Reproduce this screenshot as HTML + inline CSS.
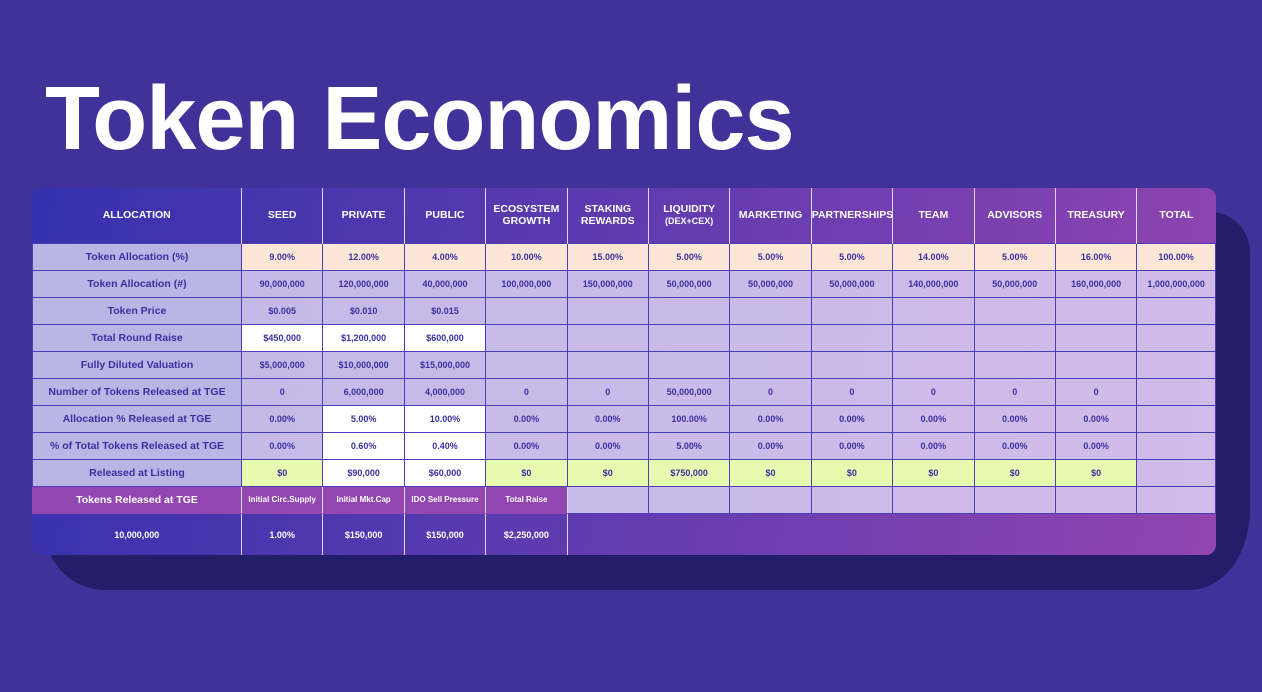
<!DOCTYPE html>
<html><head><meta charset="utf-8"><style>
*{margin:0;padding:0;box-sizing:border-box}
body{width:1262px;height:692px;background:#41329a;position:relative;overflow:hidden;font-family:"Liberation Sans",Arial,sans-serif}
h1{position:absolute;left:45px;top:64px;color:#fff;font-size:90px;font-weight:bold;letter-spacing:-1px;line-height:110px}
.blob{position:absolute;left:45px;top:212px;width:1205px;height:378px;background:#241d6a;border-radius:30px 40px 60px 60px / 30px 40px 80px 60px}
.card{position:absolute;left:32px;top:188px;width:1184px;height:367px;border-radius:10px;overflow:hidden;background:linear-gradient(100deg,#3532ad,#6a3db0 60%,#9145b0)}
table{position:absolute;left:0;top:0;border-collapse:collapse;table-layout:fixed;width:1184px}
td{border:1.5px solid #4a3fb8;text-align:center;font-size:9px;font-weight:bold;color:#3a2fa0;height:27px;padding:0}
td.l{font-size:10.5px}
tr.h td{height:55px;color:#fff;font-size:10.5px;border:none;border-left:1.5px solid #ddd8ff}
tr.h td:first-child{border-left:none}
tr.r td{background:rgba(225,215,245,.82)}
tr.r td.l{background:rgba(200,195,235,.9)}
td.p{background:#fde6d6!important}
td.w{background:#fff!important}
td.g{background:#e6fbb0!important}
tr.t td.pu{background:#9146b0;color:#fff;border-color:#9146b0;border-right:1.5px solid #ddd8ff}
tr.t td{background:rgba(225,215,245,.82)}
tr.b td{height:44px;color:#fff;background:transparent;border:none;border-left:1.5px solid #ddd8ff}
tr.b td:first-child{border-left:none}
tr.b td.n{border-left:none}
</style></head><body>
<h1>Token Economics</h1>
<div class="blob"></div>
<div class="card">
<table>
<colgroup><col style="width:209px"><col span="11" style="width:81.4px"></colgroup>
<tr class="h"><td>ALLOCATION</td><td>SEED</td><td>PRIVATE</td><td>PUBLIC</td><td>ECOSYSTEM<br>GROWTH</td><td>STAKING<br>REWARDS</td><td>LIQUIDITY<br><span style="font-size:9px">(DEX+CEX)</span></td><td>MARKETING</td><td>PARTNERSHIPS</td><td>TEAM</td><td>ADVISORS</td><td>TREASURY</td><td>TOTAL</td></tr>
<tr class="r"><td class="l">Token Allocation (%)</td><td class="p">9.00%</td><td class="p">12.00%</td><td class="p">4.00%</td><td class="p">10.00%</td><td class="p">15.00%</td><td class="p">5.00%</td><td class="p">5.00%</td><td class="p">5.00%</td><td class="p">14.00%</td><td class="p">5.00%</td><td class="p">16.00%</td><td class="p">100.00%</td></tr>
<tr class="r"><td class="l">Token Allocation (#)</td><td>90,000,000</td><td>120,000,000</td><td>40,000,000</td><td>100,000,000</td><td>150,000,000</td><td>50,000,000</td><td>50,000,000</td><td>50,000,000</td><td>140,000,000</td><td>50,000,000</td><td>160,000,000</td><td>1,000,000,000</td></tr>
<tr class="r"><td class="l">Token Price</td><td>$0.005</td><td>$0.010</td><td>$0.015</td><td></td><td></td><td></td><td></td><td></td><td></td><td></td><td></td><td></td></tr>
<tr class="r"><td class="l">Total Round Raise</td><td class="w">$450,000</td><td class="w">$1,200,000</td><td class="w">$600,000</td><td></td><td></td><td></td><td></td><td></td><td></td><td></td><td></td><td></td></tr>
<tr class="r"><td class="l">Fully Diluted Valuation</td><td>$5,000,000</td><td>$10,000,000</td><td>$15,000,000</td><td></td><td></td><td></td><td></td><td></td><td></td><td></td><td></td><td></td></tr>
<tr class="r"><td class="l">Number of Tokens Released at TGE</td><td>0</td><td>6,000,000</td><td>4,000,000</td><td>0</td><td>0</td><td>50,000,000</td><td>0</td><td>0</td><td>0</td><td>0</td><td>0</td><td></td></tr>
<tr class="r"><td class="l">Allocation % Released at TGE</td><td>0.00%</td><td class="w">5.00%</td><td class="w">10.00%</td><td>0.00%</td><td>0.00%</td><td>100.00%</td><td>0.00%</td><td>0.00%</td><td>0.00%</td><td>0.00%</td><td>0.00%</td><td></td></tr>
<tr class="r"><td class="l">% of Total Tokens Released at TGE</td><td>0.00%</td><td class="w">0.60%</td><td class="w">0.40%</td><td>0.00%</td><td>0.00%</td><td>5.00%</td><td>0.00%</td><td>0.00%</td><td>0.00%</td><td>0.00%</td><td>0.00%</td><td></td></tr>
<tr class="r"><td class="l">Released at Listing</td><td class="g">$0</td><td class="w">$90,000</td><td class="w">$60,000</td><td class="g">$0</td><td class="g">$0</td><td class="g">$750,000</td><td class="g">$0</td><td class="g">$0</td><td class="g">$0</td><td class="g">$0</td><td class="g">$0</td><td></td></tr>
<tr class="t"><td class="pu l">Tokens Released at TGE</td><td class="pu" style="font-size:8px">Initial Circ.Supply</td><td class="pu" style="font-size:8px">Initial Mkt.Cap</td><td class="pu" style="font-size:8px">IDO Sell Pressure</td><td class="pu" style="font-size:8px">Total Raise</td><td></td><td></td><td></td><td></td><td></td><td></td><td></td><td></td></tr>
<tr class="b"><td>10,000,000</td><td>1.00%</td><td>$150,000</td><td>$150,000</td><td>$2,250,000</td><td></td><td class="n"></td><td class="n"></td><td class="n"></td><td class="n"></td><td class="n"></td><td class="n"></td><td class="n"></td></tr>
</table>
</div>
</body></html>
